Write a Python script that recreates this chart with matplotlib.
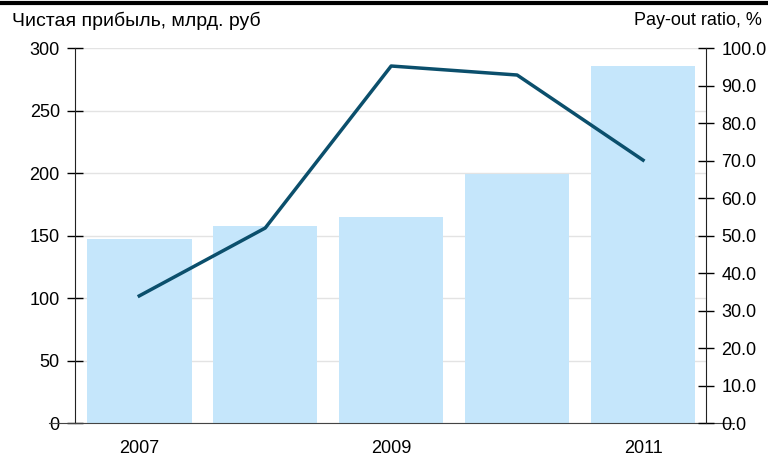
import matplotlib.pyplot as plt
from matplotlib.lines import Line2D

plt.rcParams['font.family'] = ['Liberation Sans', 'DejaVu Sans']

# Data
years = [2007, 2008, 2009, 2010, 2011]
net_profit = [147, 158, 165, 199, 286]        # млрд. руб
payout = [33.9, 52.0, 95.2, 92.8, 70.1]       # %
tick_years = ['2007', '', '2009', '', '2011']

bar_color = '#c5e6fb'
line_color = '#0b4f6c'

fig = plt.figure(figsize=(7.68, 4.59), dpi=100)
ax = fig.add_axes([0.0977, 0.0784, 0.8216, 0.817])
x = range(len(years))

ax.bar(x, net_profit, width=0.83, color=bar_color, zorder=2)
ax.set_ylim(0, 300)
ax.set_xlim(-0.51, 4.5)
ax.set_yticks(range(0, 301, 50))
ax.yaxis.grid(True, color='#e3e3e3', linewidth=1, zorder=0)
ax.set_axisbelow(True)
ax.set_xticks(list(x))
ax.set_xticklabels(tick_years)
ax.tick_params(axis='x', length=0, pad=12, labelsize=13)
ax.tick_params(axis='y', direction='inout', length=12, width=1, labelsize=13, pad=5)
for s in ['top', 'right']:
    ax.spines[s].set_visible(False)
ax.spines['left'].set_color('#222222')
ax.spines['bottom'].set_color('#444444')
ax.spines['bottom'].set_bounds(-0.72, 4.72)

ax2 = ax.twinx()
ax2.plot(x, payout, color=line_color, linewidth=2.5, zorder=3)
ax2.set_ylim(0, 100)
ax2.set_yticks(range(0, 101, 10))
ax2.set_yticklabels([f'{v:.1f}' for v in range(0, 101, 10)])
ax2.tick_params(axis='y', direction='inout', length=12, width=1, labelsize=13, pad=5)
for s in ['top', 'left', 'bottom']:
    ax2.spines[s].set_visible(False)
ax2.spines['right'].set_color('#222222')

fig.text(0.016, 0.955, 'Чистая прибыль, млрд. руб', fontsize=14, va='center', ha='left')
fig.text(0.992, 0.955, 'Pay-out ratio, %', fontsize=13, va='center', ha='right')
fig.add_artist(Line2D([0, 1], [0.993, 0.993], color='black', linewidth=3, transform=fig.transFigure))

plt.savefig('out.png', dpi=100)
